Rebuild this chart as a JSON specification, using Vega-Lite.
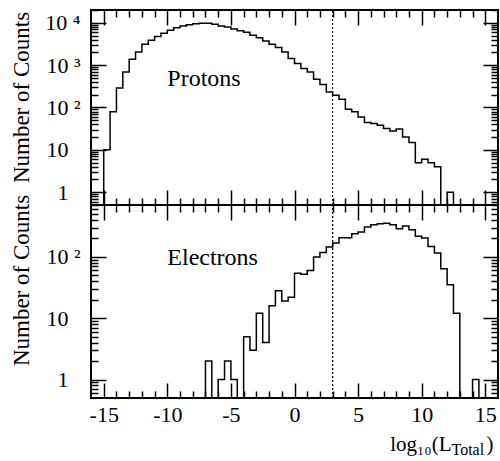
{
  "$schema": "https://vega.github.io/schema/vega-lite/v6.json",
  "padding": {"left": 8, "top": 8, "right": 0, "bottom": 20},
  "spacing": 0,
  "bounds": "flush",
  "config": {
    "view": {"stroke": "black", "strokeWidth": 2},
    "concat": {"spacing": 0},
    "axis": {
      "grid": false, "domain": false, "tickColor": "black", "tickWidth": 1.5,
      "labelFont": "Liberation Serif", "labelFontSize": 22, "labelColor": "black",
      "titleFont": "Liberation Serif", "titleFontWeight": "normal", "titleColor": "black",
      "labelOverlap": false, "labelFlush": false, "labelBound": false
    },
    "text": {"font": "Liberation Serif"}
  },
  "datasets": {
    "protons": [
      {"x": -16, "count": 0}, {"x": -15.5, "count": 0}, {"x": -15, "count": 10}, {"x": -14.5, "count": 79},
      {"x": -14, "count": 289}, {"x": -13.5, "count": 690}, {"x": -13, "count": 1375}, {"x": -12.5, "count": 2050},
      {"x": -12, "count": 3100}, {"x": -11.5, "count": 3850}, {"x": -11, "count": 4750}, {"x": -10.5, "count": 5650},
      {"x": -10, "count": 6700}, {"x": -9.5, "count": 7650}, {"x": -9, "count": 8400}, {"x": -8.5, "count": 9000},
      {"x": -8, "count": 9500}, {"x": -7.5, "count": 9700}, {"x": -7, "count": 9700}, {"x": -6.5, "count": 9200},
      {"x": -6, "count": 8400}, {"x": -5.5, "count": 7900}, {"x": -5, "count": 7100}, {"x": -4.5, "count": 6500},
      {"x": -4, "count": 5950}, {"x": -3.5, "count": 5100}, {"x": -3, "count": 4400}, {"x": -2.5, "count": 3700},
      {"x": -2, "count": 3100}, {"x": -1.5, "count": 2600}, {"x": -1, "count": 2050}, {"x": -0.5, "count": 1425},
      {"x": 0, "count": 1090}, {"x": 0.5, "count": 830}, {"x": 1, "count": 690}, {"x": 1.5, "count": 465},
      {"x": 2, "count": 350}, {"x": 2.5, "count": 233}, {"x": 3, "count": 195}, {"x": 3.5, "count": 157},
      {"x": 4, "count": 91}, {"x": 4.5, "count": 79}, {"x": 5, "count": 60}, {"x": 5.5, "count": 44},
      {"x": 6, "count": 42}, {"x": 6.5, "count": 38}, {"x": 7, "count": 32}, {"x": 7.5, "count": 28},
      {"x": 8, "count": 31}, {"x": 8.5, "count": 20}, {"x": 9, "count": 15}, {"x": 9.5, "count": 5},
      {"x": 10, "count": 6}, {"x": 10.5, "count": 5}, {"x": 11, "count": 4}, {"x": 11.5, "count": 0},
      {"x": 12, "count": 1}, {"x": 12.5, "count": 0}, {"x": 13, "count": 0}, {"x": 13.5, "count": 0},
      {"x": 14, "count": 0}, {"x": 14.5, "count": 0}, {"x": 15, "count": 0}, {"x": 15.5, "count": 0},
      {"x": 16, "count": 0}
    ],
    "electrons": [
      {"x": -16, "count": 0}, {"x": -15.5, "count": 0}, {"x": -15, "count": 0}, {"x": -14.5, "count": 0},
      {"x": -14, "count": 0}, {"x": -13.5, "count": 0}, {"x": -13, "count": 0}, {"x": -12.5, "count": 0},
      {"x": -12, "count": 0}, {"x": -11.5, "count": 0}, {"x": -11, "count": 0}, {"x": -10.5, "count": 0},
      {"x": -10, "count": 0}, {"x": -9.5, "count": 0}, {"x": -9, "count": 0}, {"x": -8.5, "count": 0},
      {"x": -8, "count": 0}, {"x": -7.5, "count": 0}, {"x": -7, "count": 2}, {"x": -6.5, "count": 0},
      {"x": -6, "count": 1}, {"x": -5.5, "count": 2}, {"x": -5, "count": 1}, {"x": -4.5, "count": 0},
      {"x": -4, "count": 5}, {"x": -3.5, "count": 3}, {"x": -3, "count": 12}, {"x": -2.5, "count": 4},
      {"x": -2, "count": 16}, {"x": -1.5, "count": 28}, {"x": -1, "count": 19}, {"x": -0.5, "count": 22},
      {"x": 0, "count": 54}, {"x": 0.5, "count": 52}, {"x": 1, "count": 60}, {"x": 1.5, "count": 99},
      {"x": 2, "count": 118}, {"x": 2.5, "count": 145}, {"x": 3, "count": 168}, {"x": 3.5, "count": 205},
      {"x": 4, "count": 205}, {"x": 4.5, "count": 238}, {"x": 5, "count": 254}, {"x": 5.5, "count": 306},
      {"x": 6, "count": 334}, {"x": 6.5, "count": 347}, {"x": 7, "count": 352}, {"x": 7.5, "count": 334},
      {"x": 8, "count": 287}, {"x": 8.5, "count": 318}, {"x": 9, "count": 277}, {"x": 9.5, "count": 216},
      {"x": 10, "count": 203}, {"x": 10.5, "count": 148}, {"x": 11, "count": 115}, {"x": 11.5, "count": 64},
      {"x": 12, "count": 35}, {"x": 12.5, "count": 12}, {"x": 13, "count": 0}, {"x": 13.5, "count": 0},
      {"x": 14, "count": 1}, {"x": 14.5, "count": 0}, {"x": 15, "count": 0}, {"x": 15.5, "count": 0},
      {"x": 16, "count": 0}
    ]
  },
  "vconcat": [
    {
      "width": 407, "height": 195,
      "layer": [
        {
          "data": {"name": "protons"},
          "mark": {"type": "line", "interpolate": "step-after", "color": "black", "strokeWidth": 1.5, "clip": true},
          "encoding": {
            "x": {"field": "x", "type": "quantitative", "scale": {"domain": [-16, 16], "nice": false, "zero": false},
              "axis": {"orient": "bottom", "values": [-15,-14,-13,-12,-11,-10,-9,-8,-7,-6,-5,-4,-3,-2,-1,0,1,2,3,4,5,6,7,8,9,10,11,12,13,14,15],
                "labels": false, "title": null, "tickSize": {"condition": {"test": "datum.value % 5 == 0", "value": -15}, "value": -7}}},
            "y": {"field": "count", "type": "quantitative", "scale": {"type": "log", "domain": [0.5, 20000], "nice": false, "clamp": true},
              "axis": {"orient": "left",
                "values": [0.6,0.7,0.8,0.9,1,2,3,4,5,6,7,8,9,10,20,30,40,50,60,70,80,90,100,200,300,400,500,600,700,800,900,1000,2000,3000,4000,5000,6000,7000,8000,9000,10000,20000],
                "labelExpr": "datum.value == 1 ? '1' : datum.value == 10 ? '10' : datum.value == 100 ? '10 ²' : datum.value == 1000 ? '10 ³' : datum.value == 10000 ? '10 ⁴' : ''",
                "labelFontSize": {"condition": {"test": "datum.value == 1 || datum.value == 10 || datum.value == 100 || datum.value == 1000 || datum.value == 10000", "value": 22}, "value": 0},
                "tickSize": {"condition": {"test": "datum.value == 1 || datum.value == 10 || datum.value == 100 || datum.value == 1000 || datum.value == 10000", "value": -15}, "value": -7},
                "labelPadding": {"condition": {"test": "datum.value <= 10", "value": 38}, "value": 26},
                "title": "Number of Counts", "titleFontSize": 23, "titleX": -63, "titleY": 87, "titleAngle": -90,
                "titleAlign": "center", "titleBaseline": "alphabetic"}}
          }
        },
        {
          "data": {"values": [{"x": -10, "y": 320, "label": "Protons"}]},
          "mark": {"type": "text", "align": "left", "baseline": "alphabetic", "fontSize": 24, "font": "Liberation Serif", "color": "black"},
          "encoding": {
            "x": {"field": "x", "type": "quantitative", "scale": {"domain": [-16, 16], "nice": false, "zero": false},
              "axis": {"orient": "top", "values": [-15,-14,-13,-12,-11,-10,-9,-8,-7,-6,-5,-4,-3,-2,-1,0,1,2,3,4,5,6,7,8,9,10,11,12,13,14,15],
                "labels": false, "title": null, "tickSize": {"condition": {"test": "datum.value % 5 == 0", "value": -15}, "value": -7}}},
            "y": {"field": "y", "type": "quantitative", "scale": {"type": "log", "domain": [0.5, 20000], "nice": false, "clamp": true},
              "axis": {"orient": "right",
                "values": [0.6,0.7,0.8,0.9,1,2,3,4,5,6,7,8,9,10,20,30,40,50,60,70,80,90,100,200,300,400,500,600,700,800,900,1000,2000,3000,4000,5000,6000,7000,8000,9000,10000,20000],
                "labels": false, "title": null,
                "tickSize": {"condition": {"test": "datum.value == 1 || datum.value == 10 || datum.value == 100 || datum.value == 1000 || datum.value == 10000", "value": -15}, "value": -7}}},
            "text": {"field": "label"}
          }
        },
        {
          "data": {"values": [{"x": 3, "lo": 0.5, "hi": 20000}]},
          "mark": {"type": "rule", "strokeDash": [2, 2], "strokeWidth": 1, "color": "black"},
          "encoding": {
            "x": {"field": "x", "type": "quantitative", "scale": {"domain": [-16, 16], "nice": false, "zero": false}, "axis": null},
            "y": {"field": "lo", "type": "quantitative", "scale": {"type": "log", "domain": [0.5, 20000], "nice": false, "clamp": true}, "axis": null},
            "y2": {"field": "hi"}
          }
        }
      ],
      "resolve": {"axis": {"x": "independent", "y": "independent"}}
    },
    {
      "width": 407, "height": 193,
      "layer": [
        {
          "data": {"name": "electrons"},
          "mark": {"type": "line", "interpolate": "step-after", "color": "black", "strokeWidth": 1.5, "clip": true},
          "encoding": {
            "x": {"field": "x", "type": "quantitative", "scale": {"domain": [-16, 16], "nice": false, "zero": false},
              "axis": {"orient": "bottom", "values": [-15,-14,-13,-12,-11,-10,-9,-8,-7,-6,-5,-4,-3,-2,-1,0,1,2,3,4,5,6,7,8,9,10,11,12,13,14,15],
                "labelExpr": "datum.value % 5 == 0 ? '' + datum.value : ''", "labelPadding": 21,
                "labelFontSize": {"condition": {"test": "datum.value % 5 == 0", "value": 22}, "value": 0},
                "tickSize": {"condition": {"test": "datum.value % 5 == 0", "value": -15}, "value": -7},
                "title": "log₁₀(L", "titleFontSize": 21, "titleX": 360, "titleY": 52, "titleAlign": "right", "titleBaseline": "alphabetic", "titleAngle": 0}},
            "y": {"field": "count", "type": "quantitative", "scale": {"type": "log", "domain": [0.5, 700], "nice": false, "clamp": true},
              "axis": {"orient": "left",
                "values": [0.6,0.7,0.8,0.9,1,2,3,4,5,6,7,8,9,10,20,30,40,50,60,70,80,90,100,200,300,400,500,600,700],
                "labelExpr": "datum.value == 1 ? '1' : datum.value == 10 ? '10' : datum.value == 100 ? '10 ²' : ''",
                "labelFontSize": {"condition": {"test": "datum.value == 1 || datum.value == 10 || datum.value == 100", "value": 22}, "value": 0},
                "tickSize": {"condition": {"test": "datum.value == 1 || datum.value == 10 || datum.value == 100", "value": -15}, "value": -7},
                "labelPadding": {"condition": {"test": "datum.value <= 10", "value": 38}, "value": 26},
                "title": "Number of Counts", "titleFontSize": 23, "titleX": -63, "titleY": 75, "titleAngle": -90,
                "titleAlign": "center", "titleBaseline": "alphabetic"}}
          }
        },
        {
          "data": {"values": [{"x": -10, "y": 73, "label": "Electrons"}]},
          "mark": {"type": "text", "align": "left", "baseline": "alphabetic", "fontSize": 24, "font": "Liberation Serif", "color": "black"},
          "encoding": {
            "x": {"field": "x", "type": "quantitative", "scale": {"domain": [-16, 16], "nice": false, "zero": false},
              "axis": {"orient": "top", "values": [-15,-14,-13,-12,-11,-10,-9,-8,-7,-6,-5,-4,-3,-2,-1,0,1,2,3,4,5,6,7,8,9,10,11,12,13,14,15],
                "labels": false, "title": null, "tickSize": {"condition": {"test": "datum.value % 5 == 0", "value": -15}, "value": -7}}},
            "y": {"field": "y", "type": "quantitative", "scale": {"type": "log", "domain": [0.5, 700], "nice": false, "clamp": true},
              "axis": {"orient": "right",
                "values": [0.6,0.7,0.8,0.9,1,2,3,4,5,6,7,8,9,10,20,30,40,50,60,70,80,90,100,200,300,400,500,600,700],
                "labels": false, "title": null,
                "tickSize": {"condition": {"test": "datum.value == 1 || datum.value == 10 || datum.value == 100", "value": -15}, "value": -7}}},
            "text": {"field": "label"}
          }
        },
        {
          "data": {"values": [{"x": 3, "lo": 0.5, "hi": 700}]},
          "mark": {"type": "rule", "strokeDash": [2, 2], "strokeWidth": 1, "color": "black"},
          "encoding": {
            "x": {"field": "x", "type": "quantitative", "scale": {"domain": [-16, 16], "nice": false, "zero": false},
              "axis": {"orient": "bottom", "ticks": false, "labels": false, "domain": false,
                "title": "Total", "titleFontSize": 16, "titleX": 360, "titleY": 56, "titleAlign": "left", "titleBaseline": "alphabetic", "titleAngle": 0}},
            "y": {"field": "lo", "type": "quantitative", "scale": {"type": "log", "domain": [0.5, 700], "nice": false, "clamp": true}, "axis": null},
            "y2": {"field": "hi"}
          }
        },
        {
          "data": {"values": [{"x": 3, "lo": 0.5, "hi": 700}]},
          "mark": {"type": "rule", "strokeDash": [2, 2], "strokeWidth": 1, "color": "black"},
          "encoding": {
            "x": {"field": "x", "type": "quantitative", "scale": {"domain": [-16, 16], "nice": false, "zero": false},
              "axis": {"orient": "bottom", "ticks": false, "labels": false, "domain": false,
                "title": ")", "titleFontSize": 21, "titleX": 395, "titleY": 52, "titleAlign": "left", "titleBaseline": "alphabetic", "titleAngle": 0}},
            "y": {"field": "lo", "type": "quantitative", "scale": {"type": "log", "domain": [0.5, 700], "nice": false, "clamp": true}, "axis": null},
            "y2": {"field": "hi"}
          }
        }
      ],
      "resolve": {"axis": {"x": "independent", "y": "independent"}}
    }
  ]
}
